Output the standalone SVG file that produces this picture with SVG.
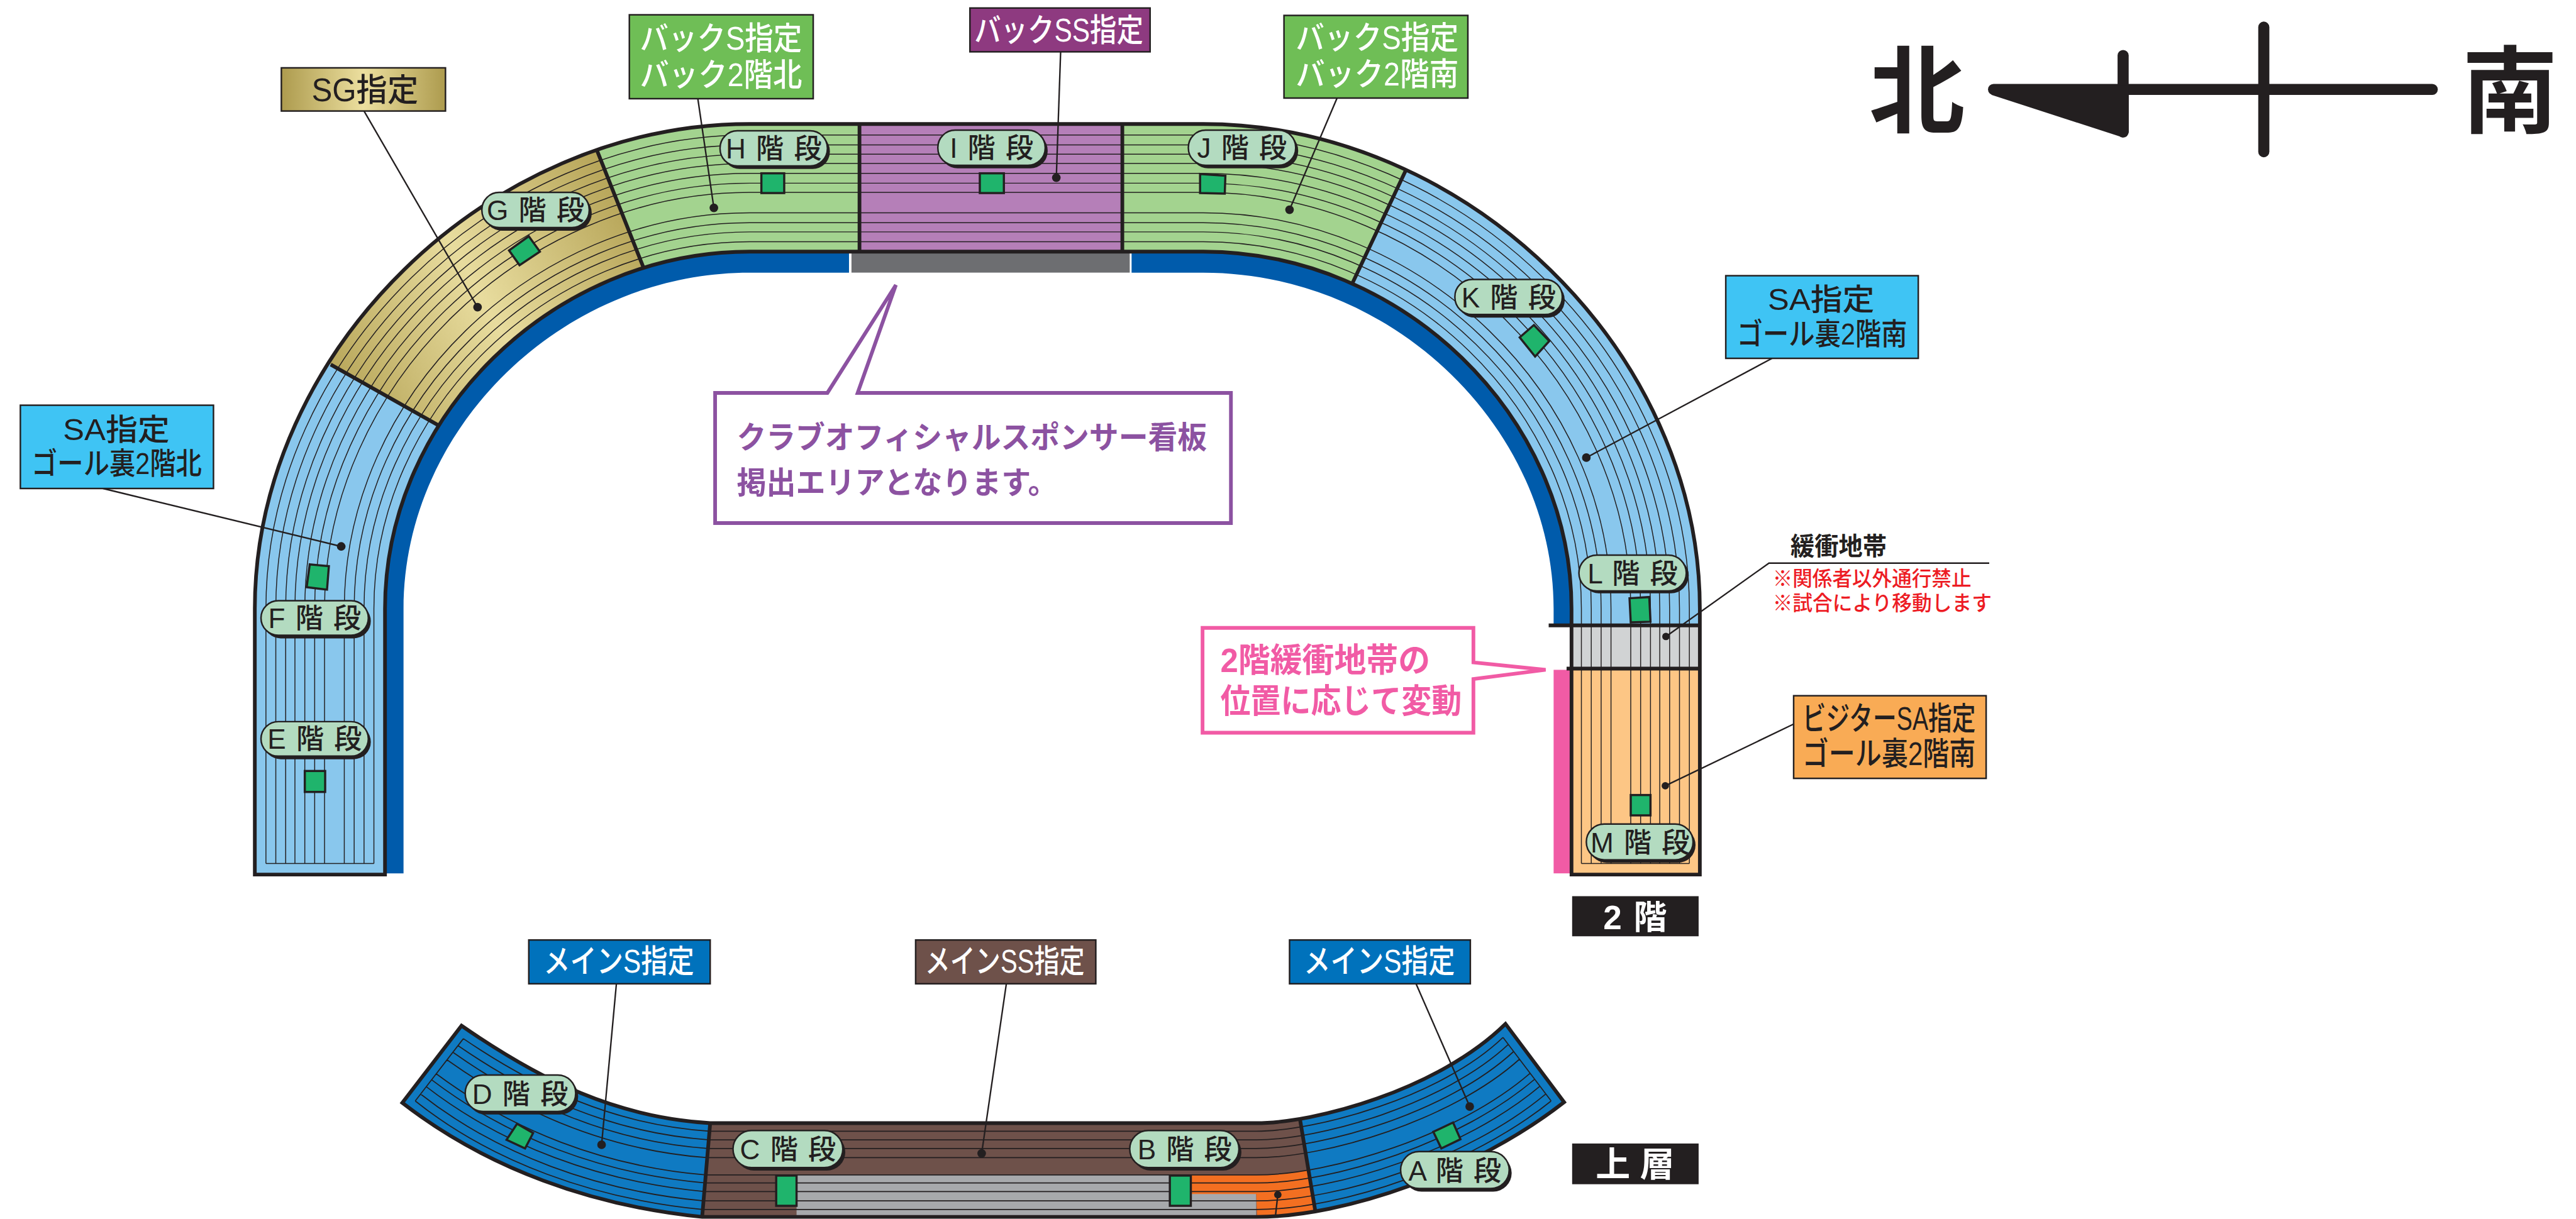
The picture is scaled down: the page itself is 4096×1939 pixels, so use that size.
<svg xmlns="http://www.w3.org/2000/svg" width="4096" height="1939" viewBox="0 0 4096 1939">
<defs>
<style>
text{font-family:"Liberation Sans","Noto Sans CJK JP",sans-serif;font-weight:700;fill:#231f20}
.w{fill:#fff}
.thin{fill:none;stroke:#231f20;stroke-width:1.5}
.thinb{fill:none;stroke:#231f20;stroke-width:1.8}
.div{fill:none;stroke:#231f20;stroke-width:6}
.edge{fill:none;stroke:#231f20;stroke-width:6;stroke-linejoin:miter}
.lead{fill:none;stroke:#231f20;stroke-width:2.4}
.dot{fill:#231f20}
.box{stroke:#231f20;stroke-width:2.5}
.shadow{fill:#231f20}
.pill{fill:#b3dbc0;stroke:#231f20;stroke-width:2.5}
.mark{fill:#1fb46c;stroke:#231f20;stroke-width:3.5}
.stair{font-size:45px;font-weight:500;word-spacing:4px;text-anchor:middle}
.lab{font-size:52px;font-weight:500}
.lab2{font-size:49px;font-weight:500}
.ctext{font-size:50px;fill:#8c52a1}
.ptext{font-size:54px;fill:#f15ba5}
.rtext{font-size:34px;fill:#ed1c24;font-weight:500}
</style>
<linearGradient id="sgBand" gradientUnits="userSpaceOnUse" x1="520" y1="640" x2="1050" y2="340">
<stop offset="0" stop-color="#b2a052"/><stop offset="0.5" stop-color="#e8dc9e"/><stop offset="1" stop-color="#b2a052"/>
</linearGradient>
<linearGradient id="sgLabel" x1="0" y1="0" x2="1" y2="0">
<stop offset="0" stop-color="#ad9b4e"/><stop offset="0.5" stop-color="#ecdf9f"/><stop offset="1" stop-color="#ad9b4e"/>
</linearGradient>
<clipPath id="upperClip"><path id="upperShape" d="M413,1418V987C413,570 790,201 1215,201H1950C2377,201 2755,570 2755,987V1418H2547V987C2547,674 2272,408 1950,408H1215C896,408 624,674 624,987V1418Z"/></clipPath>
<clipPath id="lowerClip"><path id="lowerShape" d="M748,1663C878,1753 1000,1812 1151,1821H2036C2130,1821 2330,1768 2440,1660L2535,1787C2390,1900 2180,1973 2036,1973H1138C960,1955 790,1895 652,1788Z"/></clipPath>
</defs>
<rect width="4096" height="1939" fill="#fff"/>
<g transform="scale(0.98108)">

<g id="upper-stand">
<path fill="#005bab" d="M620,1416H654V987C654,693 912,442 1215,442H1376V404H1215C896,404 620,674 620,987Z"/>
<path fill="#005bab" d="M1834,404H1950C2272,404 2550,674 2550,987V1013H2518V987C2518,693 2257,442 1950,442H1834Z"/>
<rect x="1380" y="404" width="451" height="38" fill="#6d6e71"/>
<rect x="2518" y="1086" width="28" height="330" fill="#f15ba5"/>
<g clip-path="url(#upperClip)">
<rect x="400" y="190" width="2370" height="1240" fill="#89c7ed"/>
<polygon points="359,491 928,145 1080,528 890,791" fill="url(#sgBand)"/>
<polygon points="928,145 1393,145 1393,560 1080,528" fill="#a3d38f"/>
<rect x="1393" y="190" width="426" height="230" fill="#b57fb8"/>
<polygon points="1819,145 2325,177 2145,559 1819,559" fill="#a3d38f"/>
<rect x="2540" y="1014" width="230" height="70" fill="#d1d3d4"/>
<rect x="2540" y="1084" width="230" height="340" fill="#fdc685"/>
<path class="thin" d="M431,1400V987C431,579 799,219 1215,219H1950C2368,219 2738,579 2738,987V1400
M447,1400V987C447,587 807,235 1215,235H1950C2360,235 2722,587 2722,987V1400
M463,1400V987C463,595 815,250 1215,250H1950C2352,250 2706,595 2706,987V1400
M478,1400V987C478,602 823,265 1215,265H1950C2345,265 2690,602 2690,987V1400
M494,1400V987C494,610 831,281 1215,281H1950C2337,281 2675,610 2675,987V1400
M510,1400V987C510,618 839,297 1215,297H1950C2329,297 2659,618 2659,987V1400
M526,1400V987C526,626 847,312 1215,312H1950C2321,312 2643,626 2643,987V1400
M558,1400V987C558,641 863,345 1215,345H1950C2305,345 2611,641 2611,987V1400
M574,1400V987C574,649 871,361 1215,361H1950C2297,361 2595,649 2595,987V1400
M590,1400V987C590,657 879,376 1215,376H1950C2289,376 2579,657 2579,987V1400
M606,1400V987C606,665 887,392 1215,392H1950C2281,392 2563,665 2563,987V1400
M431,1400H606M2563,1400H2738"/>
<path class="div" d="M536,591L713,691M968,245L1043,434M1393,201V408M1819,201V408M2278,277L2192,459"/>
</g>
<path class="div" d="M2510,1014H2755M2539,1084H2755"/>
<path class="edge" d="M413,1418V987C413,570 790,201 1215,201H1950C2377,201 2755,570 2755,987V1418H2547V987C2547,674 2272,408 1950,408H1215C896,408 624,674 624,987V1418Z"/>
</g>

<g id="lower-stand">
<g clip-path="url(#lowerClip)">
<rect x="640" y="1650" width="1910" height="330" fill="#0f7ac2"/>
<polygon points="1153,1800 2105,1800 2136,1990 1137,1990" fill="#6e514a"/>
<rect x="1291" y="1905" width="745" height="75" fill="#a7a9ac"/>
<path fill="#f36f21" d="M1930,1905H2036C2060,1905 2090,1903 2120,1897L2136,1990H2038L2036,1936H1930Z"/>
<path class="thinb" d="M751,1684C870,1765 997,1824 1150,1834H2036C2134,1834 2335,1779 2436,1682
M742,1695C862,1778 993,1837 1149,1848H2036C2139,1848 2341,1791 2445,1693
M734,1706C854,1791 989,1851 1148,1862H2036C2144,1862 2346,1804 2453,1705
M724,1718C846,1805 985,1865 1146,1877H2036C2148,1877 2352,1817 2463,1717
M707,1741C829,1832 978,1891 1144,1905H2036C2158,1905 2363,1841 2480,1740
M700,1751C822,1844 974,1903 1143,1918H2036C2162,1918 2368,1852 2487,1750
M691,1762C814,1857 971,1916 1142,1932H2036C2167,1932 2374,1864 2496,1761
M682,1774C805,1871 967,1931 1140,1947H2036C2172,1947 2380,1878 2505,1774
M673,1785C797,1884 963,1944 1139,1961H2036C2176,1961 2385,1889 2514,1785
M751,1684L673,1785M2436,1682L2514,1785"/>
<path class="div" d="M1151,1821L1138,1973M2107,1815L2132,1965"/>
</g>
<path class="edge" d="M748,1663C878,1753 1000,1812 1151,1821H2036C2130,1821 2330,1768 2440,1660L2535,1787C2390,1900 2180,1973 2036,1973H1138C960,1955 790,1895 652,1788Z"/>
</g>

<g id="connectors">
<path class="lead" d="M590,180L774,498"/><circle class="dot" cx="774" cy="498" r="7"/>
<path class="lead" d="M1131,160L1157,337"/><circle class="dot" cx="1157" cy="337" r="7"/>
<path class="lead" d="M1719,84L1712,288"/><circle class="dot" cx="1712" cy="288" r="7"/>
<path class="lead" d="M2167,159L2090,340"/><circle class="dot" cx="2090" cy="340" r="7"/>
<path class="lead" d="M2872,581L2571,742"/><circle class="dot" cx="2571" cy="742" r="7"/>
<path class="lead" d="M167,792L553,886"/><circle class="dot" cx="553" cy="886" r="7"/>
<path class="lead" d="M2700,1032L2867,913H3224"/><circle class="dot" cx="2700" cy="1032" r="6"/>
<path class="lead" d="M2907,1174L2699,1274"/><circle class="dot" cx="2699" cy="1274" r="6"/>
<path class="lead" d="M999,1595L975,1856"/><circle class="dot" cx="975" cy="1856" r="7"/>
<path class="lead" d="M1631,1595L1591,1870"/><circle class="dot" cx="1591" cy="1870" r="7"/>
<path class="lead" d="M2295,1595L2382,1794"/><circle class="dot" cx="2382" cy="1794" r="7"/>
<path class="lead" d="M2071,1937L2067,1973"/><circle class="dot" cx="2071" cy="1937" r="6"/>
</g>

<g id="stair-h"><rect class="mark" x="1234" y="281" width="37" height="32"/><rect class="shadow" x="1171" y="217" width="174" height="57" rx="28"/><rect class="pill" x="1167" y="212" width="174" height="57" rx="28"/><text class="stair" x="1254" y="257">H 階 段</text></g>
<g id="stair-g"><polygon class="mark" points="857,383 875,408 842,430 825,406"/><rect class="shadow" x="785" y="317" width="174" height="57" rx="28"/><rect class="pill" x="781" y="312" width="174" height="57" rx="28"/><text class="stair" x="868" y="357">G 階 段</text></g>
<g id="stair-i"><rect class="mark" x="1588" y="281" width="39" height="32"/><rect class="shadow" x="1524" y="216" width="174" height="57" rx="28"/><rect class="pill" x="1520" y="211" width="174" height="57" rx="28"/><text class="stair" x="1607" y="256">I 階 段</text></g>
<g id="stair-j"><polygon class="mark" points="1945,282 1986,285 1985,314 1945,313"/><rect class="shadow" x="1930" y="216" width="174" height="57" rx="28"/><rect class="pill" x="1926" y="211" width="174" height="57" rx="28"/><text class="stair" x="2013" y="256">J 階 段</text></g>
<g id="stair-k"><polygon class="mark" points="2486,527 2511,553 2488,578 2463,547"/><rect class="shadow" x="2362" y="458" width="174" height="57" rx="28"/><rect class="pill" x="2358" y="453" width="174" height="57" rx="28"/><text class="stair" x="2445" y="498">K 階 段</text></g>
<g id="stair-l"><polygon class="mark" points="2641,970 2673,968 2675,1008 2643,1009"/><rect class="shadow" x="2563" y="904" width="174" height="58" rx="29"/><rect class="pill" x="2559" y="900" width="174" height="58" rx="29"/><text class="stair" x="2646" y="946">L 階 段</text></g>
<g id="stair-m"><rect class="mark" x="2643" y="1289" width="32" height="33"/><rect class="shadow" x="2575" y="1341" width="173" height="58" rx="29"/><rect class="pill" x="2571" y="1336" width="173" height="58" rx="29"/><text class="stair" x="2658" y="1382">M 階 段</text></g>
<g id="stair-f"><polygon class="mark" points="502,915 533,918 530,956 497,952"/><rect class="shadow" x="427" y="979" width="174" height="56" rx="28"/><rect class="pill" x="423" y="974" width="174" height="56" rx="28"/><text class="stair" x="510" y="1018">F 階 段</text></g>
<g id="stair-e"><rect class="mark" x="494" y="1250" width="33" height="34"/><rect class="shadow" x="427" y="1175" width="174" height="56" rx="28"/><rect class="pill" x="423" y="1170" width="174" height="56" rx="28"/><text class="stair" x="510" y="1214">E 階 段</text></g>
<g id="stair-d"><polygon class="mark" points="838,1822 864,1837 851,1862 821,1848"/><rect class="shadow" x="758" y="1748" width="179" height="59" rx="29"/><rect class="pill" x="754" y="1743" width="179" height="59" rx="29"/><text class="stair" x="843" y="1790">D 階 段</text></g>
<g id="stair-c"><rect class="mark" x="1258" y="1906" width="33" height="49"/><rect class="shadow" x="1192" y="1838" width="178" height="60" rx="30"/><rect class="pill" x="1188" y="1833" width="178" height="60" rx="30"/><text class="stair" x="1277" y="1880">C 階 段</text></g>
<g id="stair-b"><rect class="mark" x="1896" y="1906" width="34" height="49"/><rect class="shadow" x="1835" y="1838" width="177" height="60" rx="30"/><rect class="pill" x="1831" y="1833" width="177" height="60" rx="30"/><text class="stair" x="1920" y="1880">B 階 段</text></g>
<g id="stair-a"><polygon class="mark" points="2355,1820 2367,1847 2336,1862 2323,1835"/><rect class="shadow" x="2274" y="1872" width="176" height="60" rx="30"/><rect class="pill" x="2270" y="1867" width="176" height="60" rx="30"/><text class="stair" x="2358" y="1914">A 階 段</text></g>

<g id="label-sg"><rect class="box" x="456" y="110" width="266" height="70" fill="url(#sgLabel)"/><text class="lab" x="505" y="164" textLength="173" lengthAdjust="spacingAndGlyphs">SG指定</text></g>
<g id="label-back-s-north"><rect class="box" x="1020" y="24" width="298" height="136" fill="#6fbe56"/><text class="lab w" x="1037" y="81" textLength="263" lengthAdjust="spacingAndGlyphs">バックS指定</text><text class="lab w" x="1037" y="140" textLength="263" lengthAdjust="spacingAndGlyphs">バック2階北</text></g>
<g id="label-back-ss"><rect class="box" x="1572" y="13" width="292" height="71" fill="#8e3a80"/><text class="lab w" x="1579" y="67" textLength="274" lengthAdjust="spacingAndGlyphs">バックSS指定</text></g>
<g id="label-back-s-south"><rect class="box" x="2081" y="25" width="298" height="134" fill="#6fbe56"/><text class="lab w" x="2100" y="80" textLength="264" lengthAdjust="spacingAndGlyphs">バックS指定</text><text class="lab w" x="2100" y="139" textLength="264" lengthAdjust="spacingAndGlyphs">バック2階南</text></g>
<g id="label-sa-south"><rect class="box" x="2797" y="447" width="312" height="134" fill="#3fc4f4"/><text class="lab2" x="2865" y="503" textLength="173" lengthAdjust="spacingAndGlyphs">SA指定</text><text class="lab2" x="2815" y="559" textLength="276" lengthAdjust="spacingAndGlyphs">ゴール裏2階南</text></g>
<g id="label-sa-north"><rect class="box" x="33" y="657" width="313" height="135" fill="#3fc4f4"/><text class="lab2" x="102" y="713" textLength="173" lengthAdjust="spacingAndGlyphs">SA指定</text><text class="lab2" x="51" y="769" textLength="276" lengthAdjust="spacingAndGlyphs">ゴール裏2階北</text></g>
<g id="label-visitor"><rect class="box" x="2907" y="1128" width="312" height="134" fill="#f9ab55"/><text class="lab" x="2921" y="1183" textLength="281" lengthAdjust="spacingAndGlyphs">ビジターSA指定</text><text class="lab" x="2921" y="1240" textLength="281" lengthAdjust="spacingAndGlyphs">ゴール裏2階南</text></g>
<g id="label-main-s-left"><rect class="box" x="857" y="1524" width="294" height="71" fill="#0072bc"/><text class="lab w" x="881" y="1577" textLength="244" lengthAdjust="spacingAndGlyphs">メインS指定</text></g>
<g id="label-main-ss"><rect class="box" x="1484" y="1524" width="292" height="71" fill="#6e514a"/><text class="lab w" x="1499" y="1577" textLength="259" lengthAdjust="spacingAndGlyphs">メインSS指定</text></g>
<g id="label-main-s-right"><rect class="box" x="2090" y="1524" width="293" height="71" fill="#0072bc"/><text class="lab w" x="2113" y="1577" textLength="245" lengthAdjust="spacingAndGlyphs">メインS指定</text></g>
<g id="tag-2f"><rect x="2548" y="1453" width="205" height="65" fill="#231f20"/><text class="w" x="2650" y="1506" font-size="54" text-anchor="middle" word-spacing="4">2 階</text></g>
<g id="tag-upper"><rect x="2548" y="1854" width="205" height="66" fill="#231f20"/><text class="w" x="2650" y="1907" font-size="56" text-anchor="middle">上 層</text></g>

<g id="callout-sponsor"><path d="M1159,637H1341L1452,462L1390,637H1995V848H1159Z" fill="#fff" stroke="#8c52a1" stroke-width="6"/><text class="ctext" x="1194" y="727" textLength="762" lengthAdjust="spacingAndGlyphs">クラブオフィシャルスポンサー看板</text><text class="ctext" x="1194" y="800" textLength="520" lengthAdjust="spacingAndGlyphs">掲出エリアとなります。</text></g>
<g id="callout-buffer"><path d="M1949,1018H2388V1074L2505,1086L2388,1101V1188H1949Z" fill="#fff" stroke="#f15ba5" stroke-width="6"/><text class="ptext" x="1978" y="1090" textLength="340" lengthAdjust="spacingAndGlyphs">2階緩衝地帯の</text><text class="ptext" x="1978" y="1156" textLength="391" lengthAdjust="spacingAndGlyphs">位置に応じて変動</text></g>
<g id="note-buffer"><text style="font-size:41px" x="2902" y="900" textLength="156" lengthAdjust="spacingAndGlyphs">緩衝地帯</text><text class="rtext" x="2873" y="950" textLength="322" lengthAdjust="spacingAndGlyphs">※関係者以外通行禁止</text><text class="rtext" x="2873" y="990" textLength="355" lengthAdjust="spacingAndGlyphs">※試合により移動します</text></g>

<g id="compass">
<text style="font-size:155px" x="3107" y="204" text-anchor="middle">北</text>
<text style="font-size:155px" x="4068" y="204" text-anchor="middle">南</text>
<rect x="3222" y="136" width="729" height="18" rx="9" fill="#231f20"/>
<rect x="3660" y="35" width="18" height="220" rx="9" fill="#231f20"/>
<rect x="3432" y="81" width="18" height="142" rx="9" fill="#231f20"/>
<path d="M3226,138H3450V215L3441,223L3228,154Z" fill="#231f20"/>
</g>
</g>
</svg>
